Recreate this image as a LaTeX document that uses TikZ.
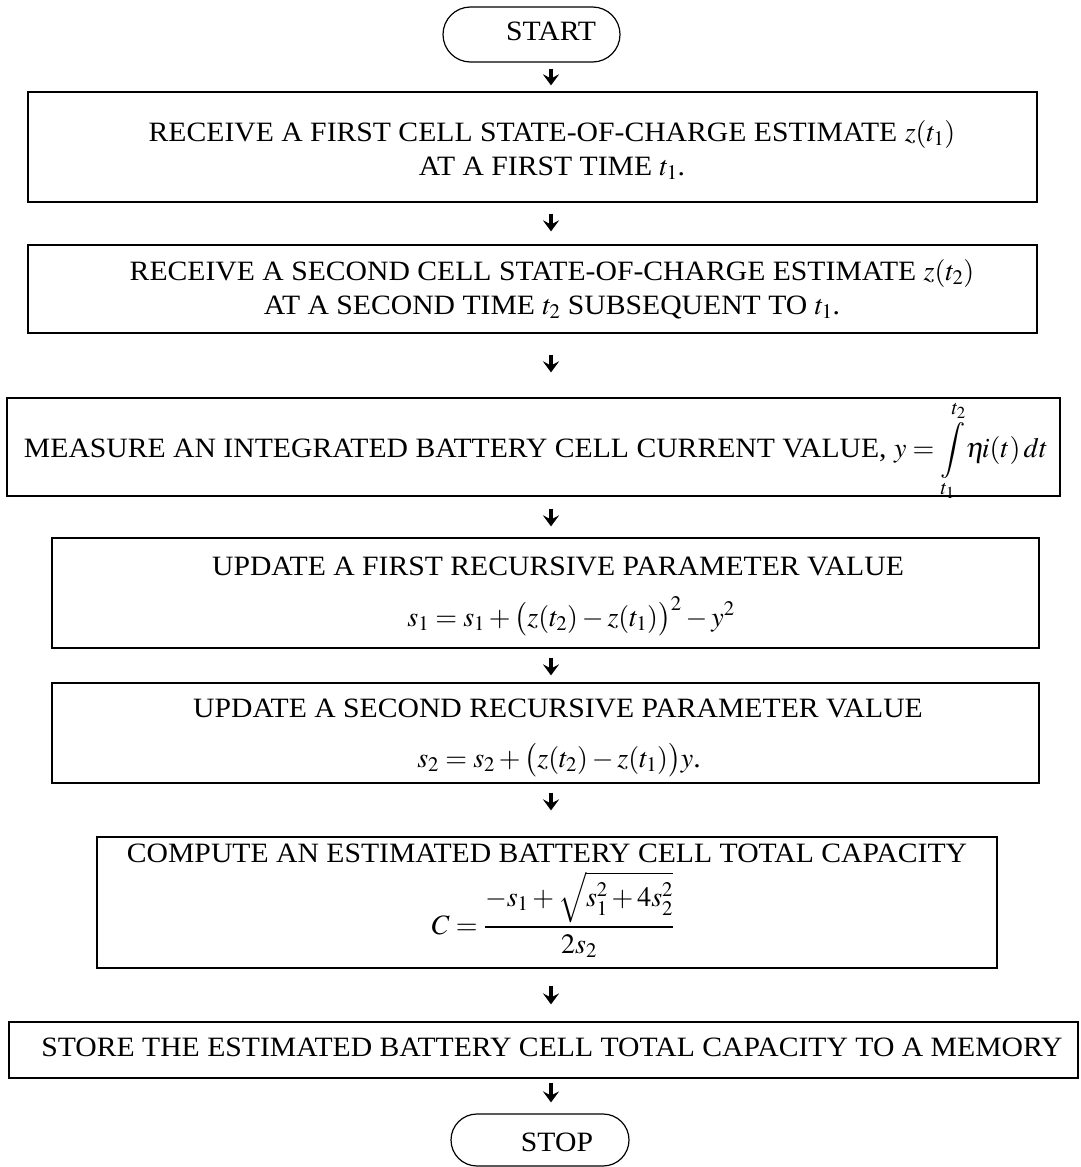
\documentclass[tikz,border=0pt]{standalone}
\usepackage{mathptmx}
\usepackage{fontspec}
\setmainfont[FakeStretch=1.06]{Liberation Serif}
\usetikzlibrary{arrows.meta,shapes.misc}
\newcommand\boxfont{\fontsize{28}{35}\selectfont}
\begin{document}
\begin{tikzpicture}[x=1pt,y=-1pt,
  stepbox/.style={draw,line width=1.2pt,inner sep=0pt},
  pill/.style={draw,line width=1.2pt,rounded rectangle,inner sep=0pt},
  txt/.style={font=\boxfont,inner sep=0pt,anchor=base},
  arr/.style={line width=4pt,-{Stealth[length=11pt,width=16pt,inset=4pt]}}]
\useasboundingbox (0,0) rectangle (1081,1167);
\coordinate (ax) at (551,0);
% shapes
\node[pill,minimum width=177pt,minimum height=55pt] (start) at (531.5,34.5) {};
\node[stepbox,minimum width=1009pt,minimum height=110pt] (b1) at (532.5,147) {};
\node[stepbox,minimum width=1009pt,minimum height=88pt] (b2) at (532.5,289) {};
\node[stepbox,minimum width=1053pt,minimum height=98pt] (b3) at (533.5,447) {};
\node[stepbox,minimum width=987pt,minimum height=110pt] (b4) at (545.5,593) {};
\node[stepbox,minimum width=987pt,minimum height=100pt] (b5) at (545.5,733) {};
\node[stepbox,minimum width=900pt,minimum height=131pt] (b6) at (547,902.5) {};
\node[stepbox,minimum width=1069pt,minimum height=56pt] (b7) at (543.5,1050) {};
\node[pill,minimum width=178pt,minimum height=52pt] (stop) at (540,1140) {};
% texts
\node[txt] (tstart) at (551,40) {START};
\node[txt] (t1a) at (552,141) {RECEIVE A FIRST CELL STATE-OF-CHARGE ESTIMATE $z(t_1)$};
\node[txt] (t1b) at (552,175) {AT A FIRST TIME $t_1$.};
\node[txt] (t2a) at (552,280) {RECEIVE A SECOND CELL STATE-OF-CHARGE ESTIMATE $z(t_2)$};
\node[txt] (t2b) at (552,314) {AT A SECOND TIME $t_2$ SUBSEQUENT TO $t_1$.};
\node[txt] (t3) at (536,457) {MEASURE AN INTEGRATED BATTERY CELL CURRENT VALUE, $\displaystyle y=\int\limits_{t_1}^{t_2}\!\eta\mkern-2mu i(t)\,dt$};
\node[txt] (t4a) at (558,575) {UPDATE A FIRST RECURSIVE PARAMETER VALUE};
\node[txt] (t4b) at (571,626) {$s_1=s_1+\bigl(z(t_2)-z(t_1)\bigr)^2-y^2$};
\node[txt] (t5a) at (558,717) {UPDATE A SECOND RECURSIVE PARAMETER VALUE};
\node[txt] (t5b) at (559,767) {$s_2=s_2+\bigl(z(t_2)-z(t_1)\bigr)y$.};
\node[txt] (t6a) at (547,862) {COMPUTE AN ESTIMATED BATTERY CELL TOTAL CAPACITY};
\node[txt] (t6b) at (553,934) {$\displaystyle C=\frac{-s_1+\sqrt{s_1^2+4s_2^2}}{2s_2}$};
\node[txt] (t7) at (552,1056) {STORE THE ESTIMATED BATTERY CELL TOTAL CAPACITY TO A MEMORY};
\node[txt] (tstop) at (557,1151) {STOP};
% connectors
\draw[arr,shorten <=6pt,shorten >=6pt] (start.south -| ax) -- (b1.north -| ax);
\draw[arr,shorten <=11pt,shorten >=13pt] (b1.south -| ax) -- (b2.north -| ax);
\draw[arr,shorten <=21pt,shorten >=25pt] (b2.south -| ax) -- (b3.north -| ax);
\draw[arr,shorten <=12pt,shorten >=11pt] (b3.south -| ax) -- (b4.north -| ax);
\draw[arr,shorten <=9pt,shorten >=7pt] (b4.south -| ax) -- (b5.north -| ax);
\draw[arr,shorten <=9pt,shorten >=26pt] (b5.south -| ax) -- (b6.north -| ax);
\draw[arr,shorten <=17pt,shorten >=17pt] (b6.south -| ax) -- (b7.north -| ax);
\draw[arr,shorten <=4pt,shorten >=11pt] (b7.south -| ax) -- (stop.north -| ax);
\end{tikzpicture}
\end{document}
